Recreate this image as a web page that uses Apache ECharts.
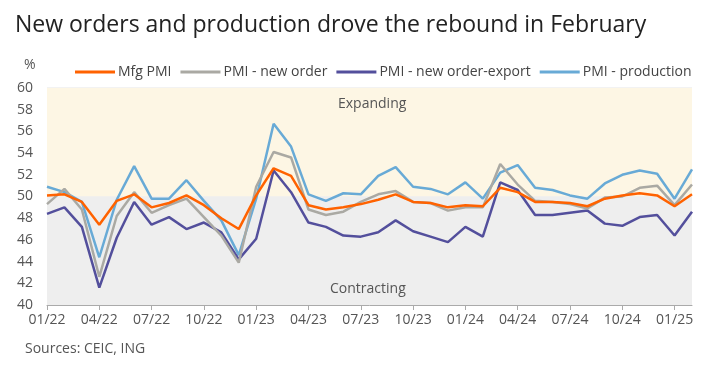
<!DOCTYPE html>
<html><head><meta charset="utf-8">
<script src="https://cdn.jsdelivr.net/npm/echarts@6/dist/echarts.min.js"></script>
<style>html,body{margin:0;padding:0;background:#fff}#c{width:707px;height:369px}</style>
</head><body><div id="c"></div>
<script>
const categories = ["01/22","02/22","03/22","04/22","05/22","06/22","07/22","08/22","09/22","10/22","11/22","12/22",
"01/23","02/23","03/23","04/23","05/23","06/23","07/23","08/23","09/23","10/23","11/23","12/23",
"01/24","02/24","03/24","04/24","05/24","06/24","07/24","08/24","09/24","10/24","11/24","12/24",
"01/25","02/25"];
const mfgPMI = [50.1,50.2,49.5,47.4,49.6,50.2,49.0,49.4,50.1,49.2,48.0,47.0,
50.1,52.6,51.9,49.2,48.8,49.0,49.3,49.7,50.2,49.5,49.4,49.0,
49.2,49.1,50.8,50.4,49.5,49.5,49.4,49.1,49.8,50.1,50.3,50.1,
49.1,50.2];
const newOrder = [49.3,50.7,48.8,42.6,48.2,50.4,48.5,49.2,49.8,48.1,46.4,43.9,
50.9,54.1,53.6,48.8,48.3,48.6,49.5,50.2,50.5,49.5,49.4,48.7,
49.0,49.0,53.0,51.1,49.6,49.5,49.3,48.9,49.9,50.0,50.8,51.0,
49.2,51.1];
const exportOrder = [48.4,49.0,47.2,41.6,46.2,49.5,47.4,48.1,47.0,47.6,46.7,44.2,
46.1,52.4,50.4,47.6,47.2,46.4,46.3,46.7,47.8,46.8,46.3,45.8,
47.2,46.3,51.3,50.6,48.3,48.3,48.5,48.7,47.5,47.3,48.1,48.3,
46.4,48.6];
const production = [50.9,50.4,49.5,44.4,49.7,52.8,49.8,49.8,51.5,49.6,47.8,44.6,
49.8,56.7,54.6,50.2,49.6,50.3,50.2,51.9,52.7,50.9,50.7,50.2,
51.3,49.8,52.2,52.9,50.8,50.6,50.1,49.8,51.2,52.0,52.4,52.1,
49.8,52.5];
const seriesNames = ["Mfg PMI","PMI - new order","PMI - new order-export","PMI - production"];
const colors = ["#ff6200","#aaa9a3","#534f9c","#68aad6"];
const font = "'Open Sans', sans-serif";

const chart = echarts.init(document.getElementById('c'));
const data = [mfgPMI, newOrder, exportOrder, production];
const series = data.map((d,i)=>({
  name: seriesNames[i], type:'line', data:d, symbol:'none', z: 10-i,
  lineStyle:{width:2.5,color:colors[i]}, itemStyle:{color:colors[i]}
}));
series[0].markArea = {
  silent:true,
  data:[
    [{yAxis:50,itemStyle:{color:'#fdf6e4'}},{yAxis:60}],
    [{yAxis:40,itemStyle:{color:'#eeeeee'}},{yAxis:50}]
  ],
  z:0
};
chart.setOption({
  animation:false,
  textStyle:{fontFamily:font},
  title:[
    {text:"New orders and production drove the rebound in February",left:10,top:9,
     textStyle:{fontSize:23,fontWeight:'normal',color:'#222',fontFamily:font}},
    {text:"Sources: CEIC, ING",left:20,top:337,textStyle:{fontSize:14,fontWeight:'normal',color:'#555',fontFamily:font}},
    {text:"%",left:19,top:53,textStyle:{fontSize:14,fontWeight:'normal',color:'#555',fontFamily:font}},
    {text:"Expanding",left:333,top:92,textStyle:{fontSize:14,fontWeight:'normal',color:'#555',fontFamily:font}},
    {text:"Contracting",left:325,top:277,textStyle:{fontSize:14,fontWeight:'normal',color:'#555',fontFamily:font}}
  ],
  legend:{
    data:seriesNames, left:70, top:60, icon:'rect', itemWidth:40, itemHeight:3, itemGap:9,
    textStyle:{fontSize:14,color:'#444',fontFamily:font,padding:[0,0,0,-2]}
  },
  grid:{left:47,right:15,top:88,bottom:64},
  xAxis:{
    type:'category', data:categories, boundaryGap:false,
    axisLine:{lineStyle:{color:'#aaa'}},
    axisTick:{interval:2,length:5,lineStyle:{color:'#aaa'}},
    axisLabel:{interval:2,fontSize:14,color:'#555',margin:8,fontFamily:font},
    splitLine:{show:false}
  },
  yAxis:{
    type:'value', min:40, max:60, interval:2,
    axisLine:{show:false}, axisTick:{show:false},
    axisLabel:{fontSize:14,color:'#555',margin:14,fontFamily:font},
    splitLine:{lineStyle:{color:'rgba(0,0,0,0.07)',width:1.5}}
  },
  series: series
});
</script></body></html>
